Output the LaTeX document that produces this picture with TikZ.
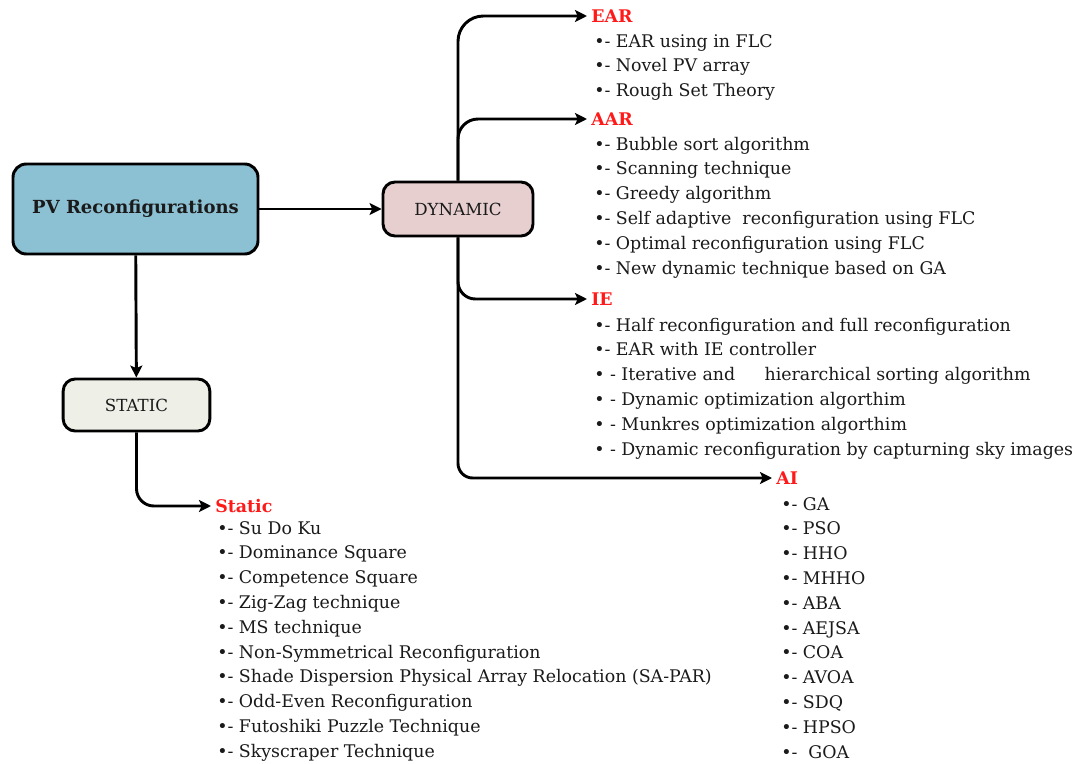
\documentclass[tikz,border=0pt]{standalone}
\usepackage{fontspec}
\setmainfont{DejaVu Serif}
\usetikzlibrary{arrows.meta}
\definecolor{pvblue}{HTML}{8CC0D3}
\definecolor{dynpink}{HTML}{E8CFCF}
\definecolor{statgrey}{HTML}{EEF0E8}
\definecolor{titlered}{HTML}{FF1A1A}
\definecolor{txt}{HTML}{1A1A1A}
\newcommand\fs{\fontsize{13.05}{16}\selectfont}
\begin{document}
\begin{tikzpicture}[x=0.75pt,y=-0.75pt,
  box/.style={draw=black, line width=2.2pt, rounded corners=9pt, inner sep=0pt, text=txt},
  conn/.style={draw=black, line width=2.2pt, -{Stealth[length=9pt,width=9pt,inset=2pt]}},
  head/.style={anchor=west, inner xsep=3pt, inner ysep=0pt, text=titlered, font=\fs\bfseries},
  itm/.style={anchor=base west, inner sep=0pt, font=\fs, text=txt}]
\useasboundingbox (0,0) rectangle (1076,764);
% boxes
\node[box, fill=pvblue, minimum width=183.75pt, minimum height=67.5pt, rounded corners=10pt, font=\fontsize{13.5}{16}\selectfont\bfseries] (pv) at (135.5,209) {PV Reconfigurations};
\node[box, fill=dynpink, minimum width=112.5pt, minimum height=40.5pt, font=\fontsize{12.5}{15}\selectfont] (dyn) at (458,209) {DYNAMIC};
\node[box, fill=statgrey, minimum width=110pt, minimum height=39pt, font=\fontsize{12.5}{15}\selectfont] (sta) at (136.5,405) {STATIC};
% titles
\node[head] (ear) at (587,16) {EAR};
\node[head] (aar) at (587,119) {AAR};
\node[head] (ie) at (587,299) {IE};
\node[head] (ai) at (772,478) {AI};
\node[head] (st) at (211,506) {Static};
% items
\foreach \t [count=\i from 0] in {EAR using in FLC, Novel PV array, Rough Set Theory}
  \node[itm] (ear-\i) at (594,47+\i*24.8) {•- \t};
\foreach \t [count=\i from 0] in {Bubble sort algorithm, Scanning technique, Greedy algorithm, Self adaptive\ \ reconfiguration using FLC, Optimal reconfiguration using FLC, New dynamic technique based on GA}
  \node[itm] (aar-\i) at (594,150+\i*24.8) {•- \t};
\node[itm] (ie-0) at (594,331) {•- Half reconfiguration and full reconfiguration};
\node[itm] (ie-1) at (594,355.8) {•- EAR with IE controller};
\node[itm] (ie-2) at (594,380.6) {• - Iterative and\hspace{22pt}hierarchical sorting algorithm};
\node[itm] (ie-3) at (594,405.4) {• - Dynamic optimization algorthim};
\node[itm] (ie-4) at (594,430.2) {• - Munkres optimization algorthim};
\node[itm] (ie-5) at (594,455) {• - Dynamic reconfiguration by capturning sky images};
\foreach \t [count=\i from 0] in {GA, PSO, HHO, MHHO, ABA, AEJSA, COA, AVOA, SDQ, HPSO, \ GOA}
  \node[itm] (ai-\i) at (781,510+\i*24.8) {•- \t};
\foreach \t [count=\i from 0] in {Su Do Ku, Dominance Square, Competence Square, Zig-Zag technique, MS technique, Non-Symmetrical Reconfiguration, Shade Dispersion Physical Array Relocation (SA-PAR), Odd-Even Reconfiguration, Futoshiki Puzzle Technique, Skyscraper Technique}
  \node[itm] (st-\i) at (217,534+\i*24.8) {•- \t};
% connectors
\draw[conn] (pv) -- (dyn);
\draw[conn] (pv) -- (sta);
\draw[conn, rounded corners=13pt] (sta.south) |- (st.west);
\draw[conn, rounded corners=19pt] (dyn.north) |- (ear.west);
\draw[conn, rounded corners=15pt] (dyn.north) |- (aar.west);
\draw[conn, rounded corners=13pt] (dyn.south) |- (ie.west);
\draw[conn, rounded corners=11pt] (dyn.south) |- (ai.west);
\end{tikzpicture}
\end{document}
